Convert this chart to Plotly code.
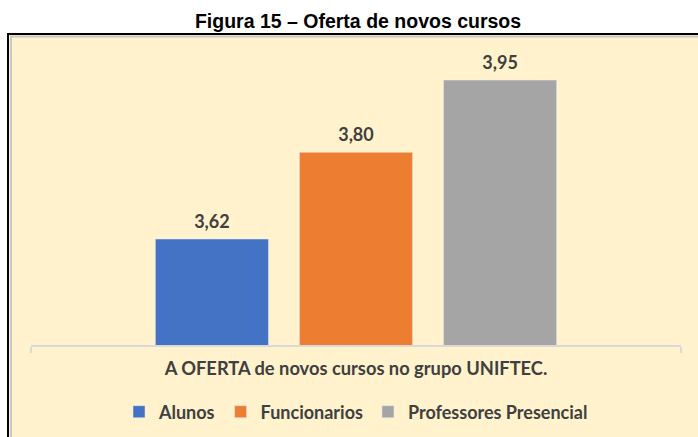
import plotly.graph_objects as go

category = ["A OFERTA de novos cursos no grupo UNIFTEC."]
series_names = ["Alunos", "Funcionarios", "Professores Presencial"]
series_values = [3.62, 3.80, 3.95]
colors = ["#4472C4", "#ED7D31", "#A5A5A5"]
title_text = "Figura 15 – Oferta de novos cursos"

W, H = 698, 437
ML, MR, MT, MB = 31, 17, 56, 92
PW, PH = W - ML - MR, H - MT - MB

FONT = "Lato"
TXT = "#404040"

fig = go.Figure()
for name, val, col in zip(series_names, series_values, colors):
    fig.add_trace(go.Bar(
        x=category, y=[val], name=name, marker_color=col,
        offsetgroup=name, alignmentgroup="a",
    ))
for name, val in zip(series_names, series_values):
    fig.add_trace(go.Scatter(
        x=category, y=[val], mode="markers+text", showlegend=False,
        offsetgroup=name, alignmentgroup="a",
        marker=dict(size=9, opacity=0),
        text=[f"{val:.2f}".replace(".", ",")], textposition="top center",
        textfont=dict(family=FONT, size=18, color=TXT, weight="bold"),
        cliponaxis=False, hoverinfo="skip",
    ))

def px_x(p):
    return (p - ML) / PW

def px_y(p):
    return (H - MB - p) / PH

fig.update_layout(
    width=W, height=H,
    margin=dict(l=ML, r=MR, t=MT, b=MB, autoexpand=False),
    paper_bgcolor="white", plot_bgcolor="rgba(0,0,0,0)",
    barmode="group", bargap=0.335, bargroupgap=0.215,
    scattermode="group", scattergap=0.335,
    separators=",.",
    showlegend=True,
    title=dict(text=f"<b>{title_text}</b>", x=358 / W, xanchor="center",
               y=1 - 21 / H, yanchor="middle",
               font=dict(family="Liberation Sans", size=19.5, color="black")),
    legend=dict(orientation="h", x=0.5, xanchor="center", y=px_y(412), yanchor="middle",
                font=dict(family=FONT, size=18, color=TXT, weight="bold"),
                bgcolor="rgba(0,0,0,0)", traceorder="normal"),
    xaxis=dict(showline=True, linecolor="#D9D9D9", linewidth=1.5,
               ticks="outside", tickson="boundaries", ticklen=6, tickcolor="#D9D9D9",
               tickwidth=1.5, automargin=False, fixedrange=True,
               tickfont=dict(family=FONT, size=18.3, color=TXT, weight="bold"),
               ticklabelstandoff=6),
    yaxis=dict(range=[3.4, 4.0], visible=False, showgrid=False, automargin=False,
               fixedrange=True),
    shapes=[
        dict(type="rect", xref="paper", yref="paper", layer="below",
             x0=px_x(8), x1=px_x(720), y0=px_y(460), y1=px_y(34),
             fillcolor="#FFF2CC", line=dict(color="black", width=2)),
        dict(type="rect", xref="paper", yref="paper", layer="below",
             x0=px_x(11), x1=px_x(720), y0=px_y(460), y1=px_y(36.5),
             fillcolor="rgba(0,0,0,0)", line=dict(color="#C8C8C8", width=2)),
    ],
)

fig.write_html(
    "out.html",
    config={"displayModeBar": False},
    post_script="document.body.style.margin='0';document.body.style.overflow='hidden';",
)
